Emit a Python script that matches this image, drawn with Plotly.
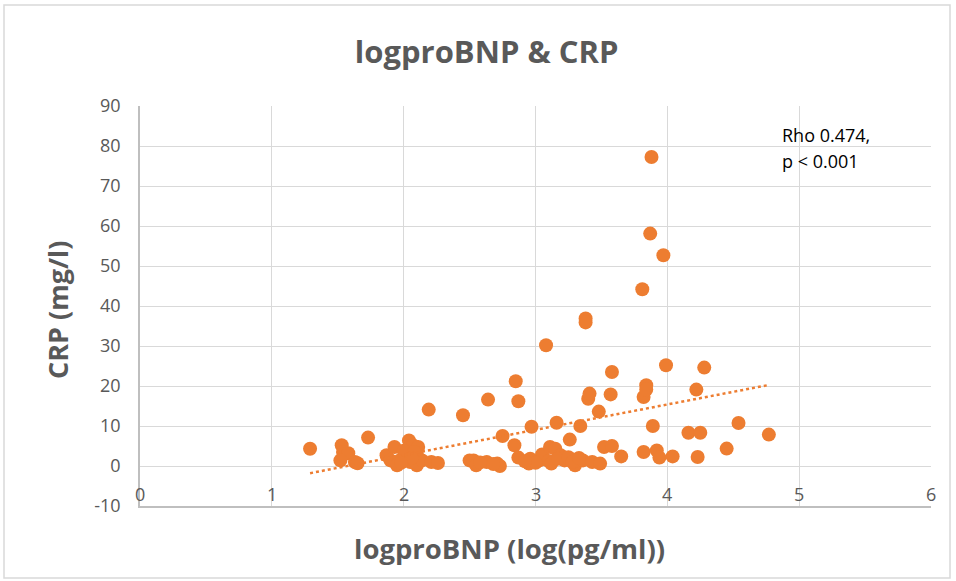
import numpy as np
import plotly.graph_objects as go

# logproBNP (log(pg/ml))
log_probnp = [
    1.29, 1.53, 1.54, 1.58, 1.52, 1.63, 1.65, 1.73, 1.87, 1.90,
    1.93, 1.97, 1.95, 2.04, 2.07, 2.11, 2.02, 2.10, 2.05, 2.10,
    2.14, 2.21, 2.26, 2.19, 2.45, 2.50, 2.53, 2.55, 2.63, 2.64,
    2.71, 2.73, 2.75, 2.84, 2.85, 2.87, 2.87, 2.95, 2.96, 2.97,
    3.03, 3.05, 3.08, 3.10, 3.11, 3.12, 3.15, 3.16, 3.19, 3.22,
    3.26, 3.30, 3.34, 3.36, 3.38, 3.38, 3.40, 3.41, 3.43, 3.48,
    3.49, 3.52, 3.57, 3.58, 3.58, 3.65, 3.81, 3.82, 3.82, 3.84,
    3.84, 3.87, 3.88, 3.89, 3.92, 3.94, 3.97, 3.99, 4.04, 4.16,
    4.22, 4.23, 4.25, 4.28, 4.45, 4.54, 4.77,
    2.00, 2.08, 2.06, 1.98, 3.00, 3.17, 3.25, 3.28, 2.92, 2.68,
    2.58, 3.33,
]
# CRP (mg/l)
crp = [
    4.3, 5.2, 3.5, 3.2, 1.4, 1.0, 0.7, 7.1, 2.7, 1.4,
    4.75, 1.4, 0.2, 6.4, 5.2, 4.75, 2.7, 2.7, 1.0, 0.2,
    1.4, 1.0, 0.75, 14.1, 12.7, 1.4, 1.4, 0.2, 1.0, 16.6,
    0.6, 0.0, 7.5, 5.2, 21.2, 16.2, 2.1, 0.6, 1.8, 9.8,
    1.4, 2.9, 30.2, 1.25, 4.75, 0.6, 4.3, 10.8, 2.7, 1.4,
    6.6, 0.2, 10.0, 1.4, 36.9, 35.9, 16.8, 18.1, 1.0, 13.6,
    0.6, 4.75, 17.9, 5.0, 23.5, 2.4, 44.2, 17.25, 3.5, 20.2,
    19.1, 58.1, 77.25, 10.0, 3.9, 2.1, 52.7, 25.2, 2.4, 8.3,
    19.1, 2.25, 8.3, 24.6, 4.35, 10.75, 7.85,
    3.8, 3.5, 2.0, 0.8, 0.8, 1.8, 2.2, 1.0, 1.2, 0.5,
    0.9, 2.0,
]

x_ticks = [0, 1, 2, 3, 4, 5, 6]
y_ticks = [-10, 0, 10, 20, 30, 40, 50, 60, 70, 80, 90]
y_tick_labels = ["-10", "0", "10", "20", "30", "40", "50", "60", "70", "80", "90"]

title_text = "logproBNP & CRP"
x_title = "logproBNP (log(pg/ml))"
y_title = "CRP (mg/l)"
stats_lines = ["Rho 0.474,", "p < 0.001"]

ORANGE = "#ED7D31"
GREY = "#595959"
GRID = "#d9d9d9"
FONT = "Open Sans, sans-serif"

xs = np.array(log_probnp)
ys = np.array(crp)
slope, intercept = np.polyfit(xs, ys, 1)
trend_x = np.array([xs.min(), xs.max()])
trend_y = slope * trend_x + intercept

fig = go.Figure()
fig.add_trace(go.Scatter(
    x=log_probnp, y=crp, mode="markers",
    marker=dict(color=ORANGE, size=14, line=dict(width=0)),
    showlegend=False, hoverinfo="x+y",
))
fig.add_trace(go.Scatter(
    x=trend_x, y=trend_y, mode="lines",
    line=dict(color=ORANGE, width=2.5, dash="dot"),
    showlegend=False, hoverinfo="skip",
))

fig.update_layout(
    width=956, height=581,
    margin=dict(l=140, r=25, t=106, b=75),
    paper_bgcolor="white", plot_bgcolor="white",
    font=dict(family=FONT, color=GREY),
    title=dict(text="<b>" + title_text + "</b>", x=0.509, xref="container",
               xanchor="center", y=0.91, yanchor="middle",
               font=dict(size=31, color=GREY, family=FONT)),
    xaxis=dict(
        range=[0, 6], tickvals=x_ticks, showgrid=True, gridcolor=GRID, gridwidth=1,
        zeroline=False, showline=True, linecolor="#bfbfbf", linewidth=1.5,
        ticks="", showticklabels=False, fixedrange=True,
    ),
    yaxis=dict(
        range=[-10, 90], tickvals=y_ticks, ticktext=y_tick_labels,
        showgrid=True, gridcolor=GRID, gridwidth=1,
        zeroline=False, showline=True, linecolor="#bfbfbf", linewidth=1.5,
        ticks="", ticklabelstandoff=14,
        tickfont=dict(size=18, color=GREY), fixedrange=True,
    ),
)

# x tick labels sit just above the bottom axis line, inside the plot
for t in x_ticks:
    fig.add_annotation(
        x=t, y=y_ticks[0], xref="x", yref="y", text=str(t), showarrow=False,
        xanchor="center", yanchor="bottom", yshift=-2,
        font=dict(size=18, color=GREY, family=FONT),
    )

# axis titles
fig.add_annotation(
    x=(509 - 140) / 791, y=(506 - 548) / 400, xref="paper", yref="paper",
    text="<b>" + x_title + "</b>", showarrow=False,
    xanchor="center", yanchor="middle",
    font=dict(size=27.5, color=GREY, family=FONT),
)
fig.add_annotation(
    x=(57 - 140) / 791, y=(506 - 310) / 400, xref="paper", yref="paper",
    text="<b>" + y_title + "</b>", showarrow=False, textangle=-90,
    xanchor="center", yanchor="middle",
    font=dict(size=27, color=GREY, family=FONT),
)

# statistics text
for i, line in enumerate(stats_lines):
    fig.add_annotation(
        x=4.856, y=[82.7, 76.2][i], xref="x", yref="y", text=line, showarrow=False,
        xanchor="left", yanchor="middle", align="left",
        font=dict(size=18, color="black", family=FONT),
    )

fig.add_shape(
    type="rect", xref="paper", yref="paper",
    x0=(4 - 140) / 791, x1=(950 - 140) / 791,
    y0=(506 - 578) / 400, y1=(506 - 5) / 400,
    line=dict(color="#d9d9d9", width=1.5), layer="below",
)

fig.write_html("out.html")
